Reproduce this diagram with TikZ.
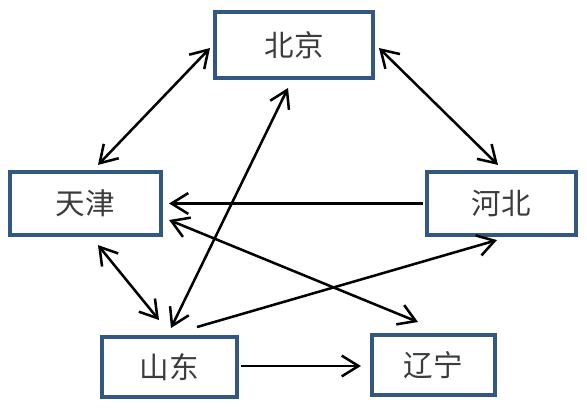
\documentclass[tikz,border=0pt]{standalone}
\usepackage{fontspec}
\newfontfamily\cjk{Noto Sans CJK SC}
\usetikzlibrary{arrows.meta}
\definecolor{boxblue}{RGB}{50,87,128}
\definecolor{textgray}{RGB}{60,60,60}
\begin{document}
\begin{tikzpicture}[
    x=0.025cm, y=-0.025cm,
    box/.style={rectangle, draw=boxblue, line width=2.8pt, fill=white, inner sep=0pt, font=\cjk\fontsize{21}{25}\selectfont, text=textgray},
    arrow/.style={line width=1.8pt, -{Straight Barb[length=0.42cm, width=0.52cm]}},
    biarrow/.style={line width=1.8pt, {Straight Barb[length=0.42cm, width=0.52cm]}-{Straight Barb[length=0.42cm, width=0.52cm]}}
]
\useasboundingbox (0,0) rectangle (587,409);

\node (bj) [box, minimum width=3.95cm, minimum height=1.65cm] at (294,45) {北京};
\node (tj) [box, minimum width=3.78cm, minimum height=1.58cm] at (85.5,203.5) {天津};
\node (hb) [box, minimum width=3.73cm, minimum height=1.58cm] at (501.5,203.5) {河北};
\node (sd) [box, minimum width=3.38cm, minimum height=1.5cm] at (169.5,367) {山东};
\node (ln) [box, minimum width=3.08cm, minimum height=1.5cm] at (433.5,365) {辽宁};

\draw [biarrow] ([shift={(-3,3)}]bj.west) -- ([shift={(12.5,-5)}]tj.north);
\draw [biarrow] ([shift={(4,3)}]bj.east) -- ([shift={(-3.5,-5)}]hb.north);
\draw [arrow] ([shift={(-2,0)}]hb.west) -- ([shift={(6,0)}]tj.east);
\draw [biarrow] ([shift={(6,16.5)}]tj.east) -- ([shift={(-15.5,-11)}]ln.north);
\draw [biarrow] ([shift={(1.5,-7)}]sd.north) -- ([shift={(-6,8)}]bj.south);
\draw [biarrow] ([shift={(12.5,8)}]tj.south) -- ([shift={(-10.5,-15)}]sd.north);
\draw [arrow] ([shift={(27.5,-8)}]sd.north) -- ([shift={(-4.5,3)}]hb.south);
\draw [arrow] ([shift={(2,-1)}]sd.east) -- ([shift={(-9,1)}]ln.west);

\end{tikzpicture}
\end{document}
